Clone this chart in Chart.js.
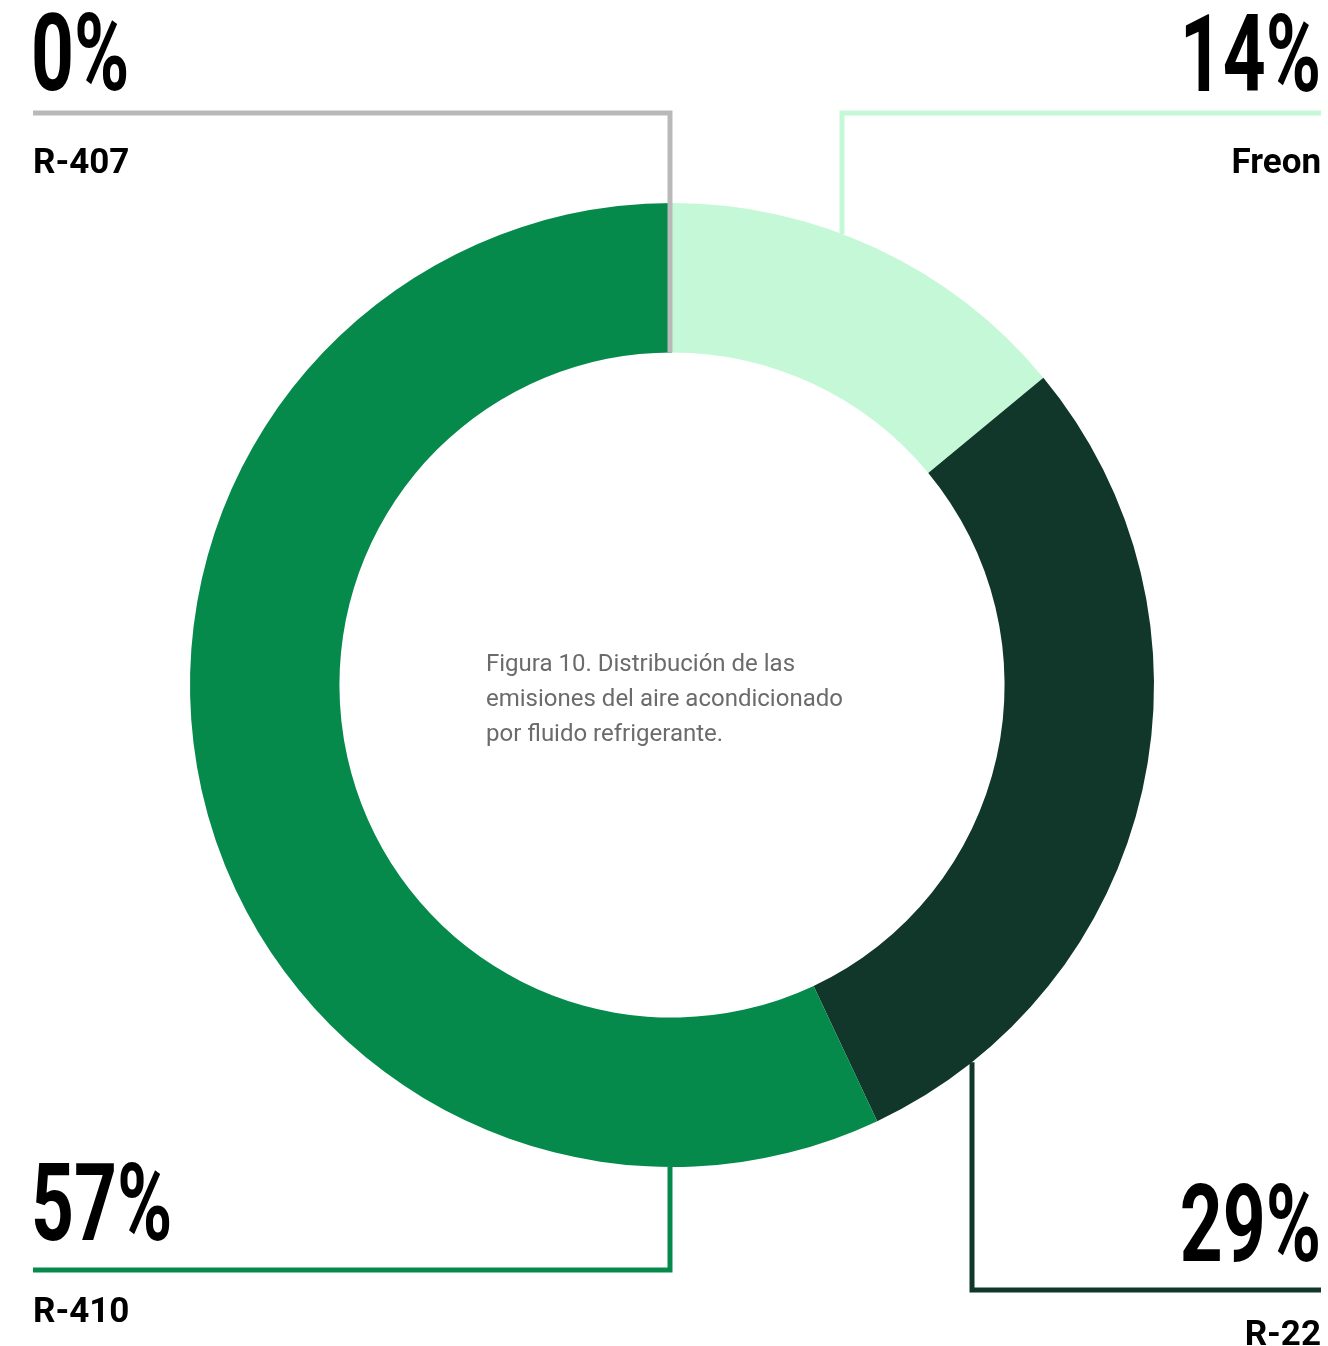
<!DOCTYPE html>
<html lang="es">
<head>
  <meta charset="UTF-8">
  <title>Distribución de las emisiones del aire acondicionado</title>
  <script src="https://cdn.jsdelivr.net/npm/chart.js"></script>
  <style>
    html, body {
      margin: 0;
      background: #fff;
    }
    #wrap {
      width: 1328px;
      height: 1346px;
      position: relative;
    }
  </style>
</head>
<body>
  <div id="wrap">
    <canvas id="fluidChart"></canvas>
  </div>
  <script>
    // datos
    const labels = ['R-407', 'Freon', 'R-22', 'R-410'];
    const values = [0, 14, 29, 57];
    const colors = ['#b9b9b9', '#c5f8d6', '#10372a', '#068a4c'];
    const caption = [
      'Figura 10. Distribución de las',
      'emisiones del aire acondicionado',
      'por fluido refrigerante.'
    ];

    // colocación de las etiquetas y de las líneas guía
    const callouts = [
      { side: 'left',  lineY: 113,  lineX: 670, stop: 'inner-top',    pctY: 90,   nameY: 173 },
      { side: 'right', lineY: 113,  lineX: 842, stop: 'outer-top',    pctY: 91,   nameY: 173 },
      { side: 'right', lineY: 1290, lineX: 972, stop: 'outer-bottom', pctY: 1261, nameY: 1345 },
      { side: 'left',  lineY: 1270, lineX: 670, stop: 'outer-bottom', pctY: 1240, nameY: 1322 }
    ];
    const marginL = 33, marginR = 1321;

    const total = values.reduce((a, b) => a + b, 0);

    const calloutPlugin = {
      id: 'callouts',
      afterDatasetsDraw(chart) {
        const c = chart.ctx;
        const arcs = chart.getDatasetMeta(0).data;
        const cx = arcs[0].x, cy = arcs[0].y;
        const R = arcs[0].outerRadius, r = arcs[0].innerRadius;

        callouts.forEach((co, i) => {
          // línea guía
          let endY;
          const dx = co.lineX - cx;
          if (co.stop === 'inner-top') endY = cy - r;
          else if (co.stop === 'outer-top') endY = cy - Math.sqrt(R * R - dx * dx);
          else endY = cy + Math.sqrt(R * R - dx * dx);

          c.save();
          c.strokeStyle = colors[i];
          c.lineWidth = 5;
          c.lineJoin = 'miter';
          c.lineCap = 'butt';
          c.beginPath();
          c.moveTo(co.side === 'left' ? marginL : marginR, co.lineY);
          c.lineTo(co.lineX, co.lineY);
          c.lineTo(co.lineX, endY);
          c.stroke();
          c.restore();

          // porcentaje
          const pct = Math.round(values[i] / total * 100) + '%';
          c.save();
          c.fillStyle = '#000';
          c.font = 'bold 107px Roboto';
          c.textBaseline = 'alphabetic';
          c.translate(co.side === 'left' ? marginL - 2 : marginR, co.pctY);
          c.scale(0.7, 1);
          c.textAlign = co.side === 'left' ? 'left' : 'right';
          c.fillText(pct, 0, 0);
          c.restore();

          // nombre del fluido
          c.save();
          c.fillStyle = '#000';
          c.font = 'bold 35px Roboto';
          c.textBaseline = 'alphabetic';
          c.textAlign = co.side === 'left' ? 'left' : 'right';
          c.fillText(labels[i], co.side === 'left' ? marginL : marginR, co.nameY);
          c.restore();
        });

        // pie de figura en el centro
        c.save();
        c.fillStyle = '#6b6b6b';
        c.font = '24px Roboto';
        c.textAlign = 'left';
        c.textBaseline = 'middle';
        caption.forEach((line, k) => c.fillText(line, cx - 186, cy - 20 + k * 35));
        c.restore();
      }
    };

    const ctx = document.getElementById('fluidChart').getContext('2d');
    new Chart(ctx, {
      type: 'doughnut',
      data: {
        labels,
        datasets: [{
          data: values,
          backgroundColor: colors,
          borderWidth: 0
        }]
      },
      plugins: [calloutPlugin],
      options: {
        responsive: true,
        maintainAspectRatio: false,
        animation: false,
        cutout: '69%',
        layout: { padding: { left: 190, right: 174, top: 203, bottom: 179 } },
        plugins: {
          legend: { display: false },
          tooltip: { enabled: false }
        }
      }
    });
  </script>
</body>
</html>
